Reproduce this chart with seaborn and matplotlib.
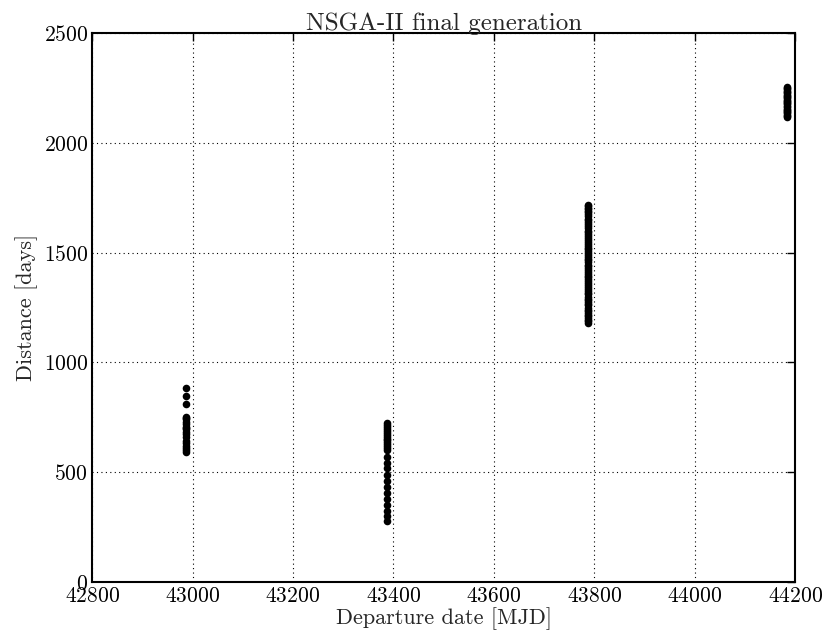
import matplotlib
matplotlib.use("Agg")
import matplotlib.pyplot as plt
import seaborn as sns
import pandas as pd

# Data
dep_1 = 42987
dist_1 = [885, 848, 809, 753, 745, 740, 730, 720, 707, 700, 695, 685, 675, 662, 640, 631, 620, 609, 600, 590]
dep_2 = 43388
dist_2 = [723, 715, 705, 697, 688, 680, 671, 662, 653, 645, 636, 627, 618, 610, 601,
          571, 543, 518, 487, 460, 434, 404, 377, 351, 323, 301, 278]
dep_3 = 43788
dist_3 = [1180, 1188, 1195, 1203, 1210, 1218, 1225, 1233, 1240, 1250, 1260, 1268, 1275,
          1283, 1290, 1300, 1310, 1318, 1325, 1335, 1345, 1352, 1360, 1370, 1380, 1388,
          1395, 1403, 1410, 1420, 1430, 1438, 1445, 1455, 1465, 1472, 1480, 1490, 1500,
          1508, 1515, 1523, 1530, 1540, 1550, 1558, 1565, 1575, 1585, 1593, 1600, 1610,
          1620, 1630, 1640, 1648, 1655, 1665, 1675, 1683, 1690, 1698, 1705, 1712, 1718]
dep_4 = 44183
dist_4 = [2118, 2123, 2128, 2134, 2140, 2145, 2150, 2156, 2162, 2168, 2175, 2180, 2185,
          2190, 2196, 2202, 2208, 2214, 2220, 2226, 2232, 2238, 2243, 2248, 2254]

x_ticks = [42800, 43000, 43200, 43400, 43600, 43800, 44000, 44200]
y_ticks = [0, 500, 1000, 1500, 2000, 2500]

sns.set_style("white")
plt.rcParams['font.family'] = ['cmr10', 'DejaVu Serif']
plt.rcParams['mathtext.fontset'] = 'cm'
plt.rcParams['axes.formatter.use_mathtext'] = True
plt.rcParams['axes.unicode_minus'] = False

xs, ys = [], []
for d, vals in [(dep_1, dist_1), (dep_2, dist_2), (dep_3, dist_3), (dep_4, dist_4)]:
    xs += [d] * len(vals)
    ys += vals
df = pd.DataFrame({"dep": xs, "dist": ys})

fig = plt.figure(figsize=(8.3, 6.36), dpi=100)
ax = fig.add_axes([0.111, 0.085, 0.847, 0.863])
sns.scatterplot(data=df, x="dep", y="dist", ax=ax, color="black", s=30,
                edgecolor="black", linewidth=0, zorder=3)

ax.set_xlim(42800, 44200)
ax.set_ylim(0, 2500)
ax.set_xticks(x_ticks)
ax.set_yticks(y_ticks)
ax.grid(True, color="black", linestyle=(0, (1, 3)), linewidth=0.8)
ax.tick_params(direction="in", length=6, width=1, top=True, right=True,
               labelsize=15.5, colors="black", pad=3)
for sp in ax.spines.values():
    sp.set_linewidth(1.5)
    sp.set_color("black")
ax.set_xlabel("Departure date [MJD]", fontsize=16, labelpad=1)
ax.set_ylabel("Distance [days]", fontsize=16, labelpad=4)
ax.set_title("NSGA-II final generation", fontsize=18, pad=2)

fig.savefig("out.png", dpi=100)
